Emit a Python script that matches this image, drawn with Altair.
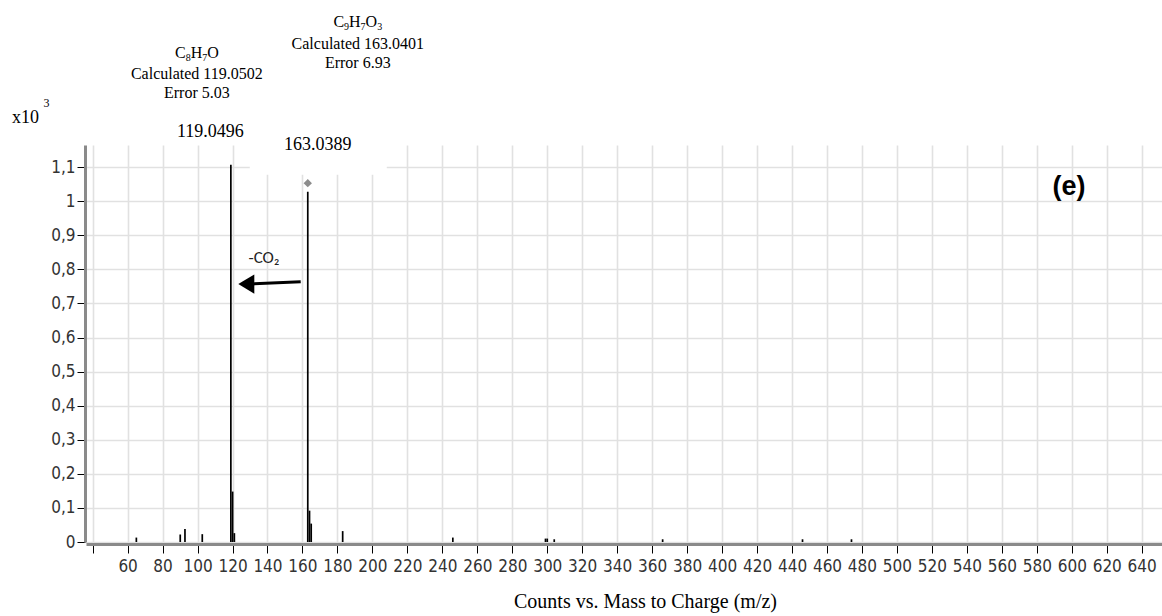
import altair as alt
import pandas as pd

# Centroided peaks: m/z and counts (x10^3)
peak_mz = [65.0, 90.1, 92.8, 102.7, 119.0496, 120.05, 121.05, 163.0389, 164.04, 165.0,
           183.0, 246.0, 299.0, 300.0, 304.0, 366.0, 446.0, 474.0]
peak_counts = [0.013, 0.022, 0.038, 0.023, 1.107, 0.148, 0.026, 1.028, 0.092, 0.054,
               0.032, 0.013, 0.010, 0.010, 0.008, 0.008, 0.008, 0.008]

# Assigned ions
ion_mz = [119.0496, 163.0389]
ion_formula = ["C8H7O", "C9H7O3"]
ion_calculated = ["119.0502", "163.0401"]
ion_error = ["5.03", "6.93"]
precursor_mz = 163.0389

# Neutral loss arrow (precursor -> fragment)
loss_label = "-CO\u2082"
loss_from_mz = 159.0
loss_to_mz = 123.3
loss_level = [0.764, 0.757]

x_ticks = list(range(40, 641, 20))
y_ticks = [round(0.1 * i, 1) for i in range(12)]

X_DOMAIN = [36.2, 651.6]
Y_DOMAIN = [0, 1.165]
W, H = 1076, 397

SERIF = "Liberation Serif, Times New Roman, serif"
NARROW = "Liberation Sans Narrow, Arial Narrow, DejaVu Sans Condensed, sans-serif"
SANS = "Liberation Sans, Arial, sans-serif"

xscale = alt.Scale(domain=X_DOMAIN, nice=False, zero=False)
yscale = alt.Scale(domain=Y_DOMAIN, nice=False)

ion_counts = [peak_counts[peak_mz.index(m)] for m in ion_mz]

peaks_df = pd.DataFrame({"mz": peak_mz, "counts": peak_counts})

x_axis = alt.Axis(
    values=x_ticks, format="d", labelExpr="datum.value == 40 ? '' : datum.label",
    grid=True, gridColor="#e1e1e1", gridWidth=1.6,
    domainColor="#8a8a8a", domainWidth=3, offset=2,
    tickColor="black", tickSize=9, tickWidth=1,
    labelFont=NARROW, labelFontSize=17, labelColor="#333333", labelPadding=5,
    title="Counts vs. Mass to Charge (m/z)", titleFont=SERIF, titleFontSize=20,
    titleFontWeight="normal", titleColor="black", titleX=559, titleY=57,
    titleBaseline="middle", titleAlign="center",
)
y_axis = alt.Axis(
    values=y_ticks, labelExpr="replace(format(datum.value, '.1~f'), '.', ',')",
    grid=True, gridColor="#e1e1e1", gridWidth=1.6,
    domainColor="#8a8a8a", domainWidth=3, offset=1,
    tickColor="black", tickSize=8, tickWidth=1,
    labelFont=NARROW, labelFontSize=17, labelColor="#333333", labelPadding=2,
    title=None,
)


def X(field):
    return alt.X(field, type="quantitative", scale=xscale, axis=x_axis)


def Y(field):
    return alt.Y(field, type="quantitative", scale=yscale, axis=y_axis)


peaks = alt.Chart(peaks_df).mark_rule(color="black", strokeWidth=1.7).encode(
    x=X("mz"), y=Y("counts"), y2=alt.datum(0),
)


def at(mz, counts, **cols):
    d = {"mz": [mz], "counts": [counts]}
    d.update({k: [v] for k, v in cols.items()})
    return alt.Chart(pd.DataFrame(d))


def text_layer(mz, counts, s, dx, dy, size, font=SERIF, align="center",
               weight="normal", color="black", baseline="alphabetic"):
    return at(mz, counts, t=s).mark_text(
        dx=dx, dy=dy, fontSize=size, font=font, align=align, fontWeight=weight,
        color=color, baseline=baseline,
    ).encode(text="t:N", x=X("mz"), y=Y("counts"))


# Times advance widths (em) used to set formula pieces side by side
EM = {"C": 0.667, "H": 0.722, "O": 0.722}


def formula_layers(mz, counts, formula, cx, dy, size=16, sub=10, drop=3):
    pieces = [(ch, sub if ch.isdigit() else size, drop if ch.isdigit() else 0)
              for ch in formula]
    widths = [(0.5 if ch.isdigit() else EM.get(ch, 0.7)) * s for ch, s, _ in pieces]
    x = cx - sum(widths) / 2
    out = []
    for (ch, s, d), w in zip(pieces, widths):
        out.append(text_layer(mz, counts, ch, x, dy + d, s, align="left"))
        x += w
    return out


layers = []

# label backing for the precursor annotation
layers.append(
    at(precursor_mz, ion_counts[1]).mark_rect(color="white", xOffset=-58, x2Offset=79,
                                              yOffset=-17).encode(
        x=X("mz"), x2="mz:Q", y=Y("counts"), y2=alt.value(0))
)
layers.append(peaks)

# precursor marker
layers.append(
    at(precursor_mz, ion_counts[1]).mark_point(
        shape="diamond", filled=True, color="#8c8c8c", size=70, opacity=1, yOffset=-8.5
    ).encode(x=X("mz"), y=Y("counts"))
)

# ion annotations: (centre offset px, formula/calculated/error baselines, value label offsets)
ann_style = [
    dict(cx=-34, base=[-107, -86, -67], vdx=-20.5, vdy=-28),
    dict(cx=50, base=[-165, -143, -124], vdx=10, vdy=-41.5),
]
for mz, cnt, f, calc, err, st in zip(ion_mz, ion_counts, ion_formula, ion_calculated,
                                      ion_error, ann_style):
    layers += formula_layers(mz, cnt, f, st["cx"], st["base"][0])
    layers.append(text_layer(mz, cnt, f"Calculated {calc}", st["cx"], st["base"][1], 16))
    layers.append(text_layer(mz, cnt, f"Error {err}", st["cx"], st["base"][2], 16))
    layers.append(text_layer(mz, cnt, f"{mz:.4f}", st["vdx"], st["vdy"], 18))

# neutral-loss arrow
arrow_df = pd.DataFrame({"mz": [loss_from_mz], "mz_end": [loss_to_mz],
                         "counts": [loss_level[0]], "counts_end": [loss_level[1]]})
layers.append(
    alt.Chart(arrow_df).mark_rule(color="black", strokeWidth=3, x2Offset=10).encode(
        x=X("mz"), x2="mz_end:Q", y=Y("counts"), y2="counts_end:Q")
)
layers.append(
    alt.Chart(arrow_df).mark_point(
        shape="M-1,0L1,-1.2L1,1.2Z", size=256, filled=True, color="black", opacity=1,
        xOffset=8
    ).encode(x=X("mz_end"), y=Y("counts_end"))
)
layers.append(text_layer((loss_from_mz + loss_to_mz) / 2, sum(loss_level) / 2, loss_label,
                         -5.5, -25, 17, font="Carlito, Lato, sans-serif", color="#222222",
                         baseline="middle"))

# scale factor and panel tag
layers.append(
    alt.Chart(pd.DataFrame({"t": ["x10"]})).mark_text(
        font=SERIF, fontSize=18, align="left", baseline="alphabetic", color="black"
    ).encode(text="t:N", x=alt.value(-74), y=alt.value(-22.5))
)
layers.append(
    alt.Chart(pd.DataFrame({"t": ["3"]})).mark_text(
        font=SERIF, fontSize=12, align="left", baseline="alphabetic", color="black"
    ).encode(text="t:N", x=alt.value(-42.5), y=alt.value(-38))
)
layers.append(
    alt.Chart(pd.DataFrame({"t": ["(e)"]})).mark_text(
        font=SANS, fontSize=27, fontWeight="bold", align="center", baseline="alphabetic",
        color="black"
    ).encode(text="t:N", x=alt.value(983), y=alt.value(49.5))
)

chart = alt.layer(*layers).properties(
    width=W, height=H,
    background="white",
    autosize=alt.AutoSizeParams(type="none"),
    padding={"left": 86, "top": 145, "right": 0, "bottom": 74},
).configure_view(strokeWidth=0)

chart.save("out.html", embed_options={"renderer": "svg", "actions": False})
